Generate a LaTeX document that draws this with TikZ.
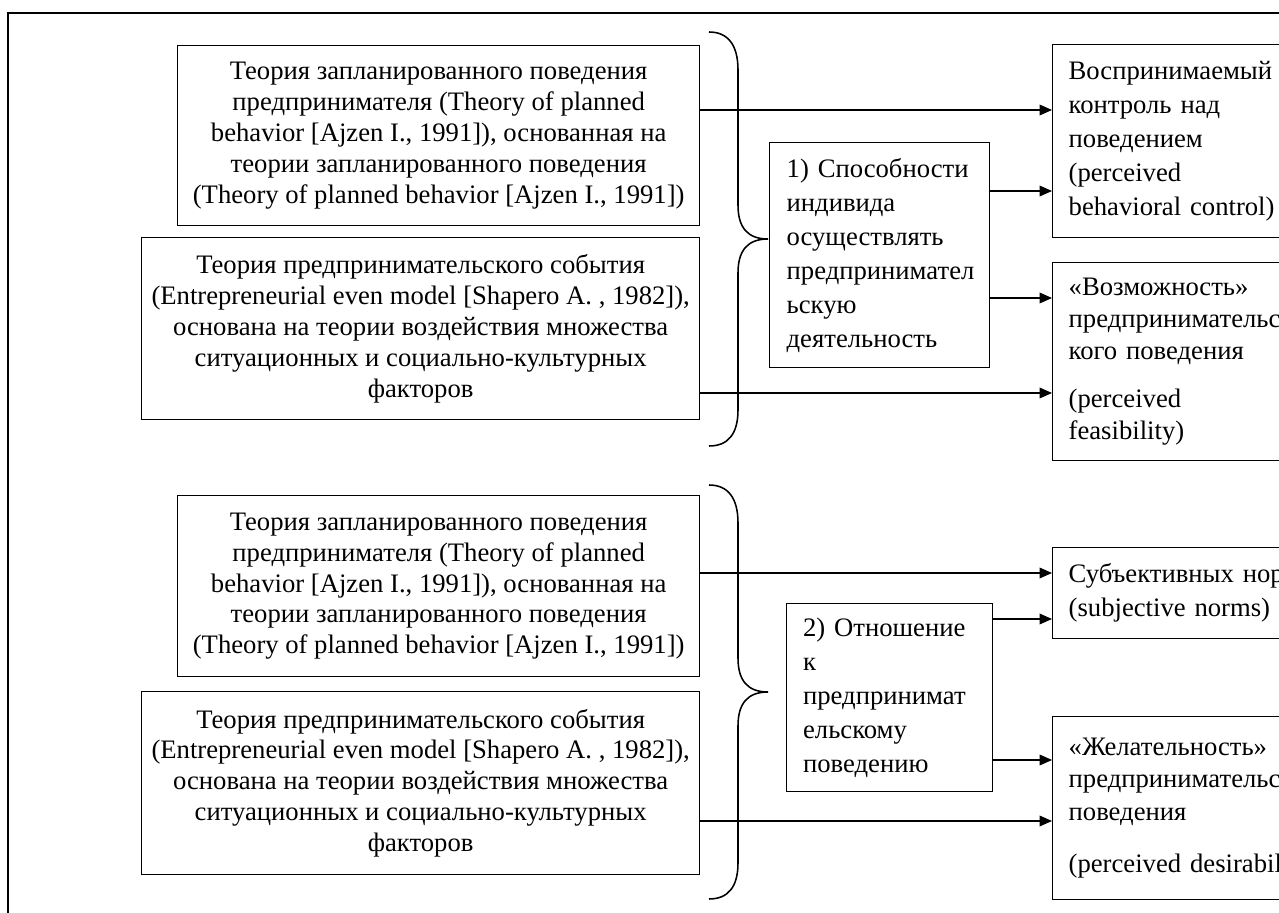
\documentclass[tikz,border=0pt]{standalone}
\usepackage{fontspec}
\setmainfont{Liberation Serif}
\usetikzlibrary{arrows.meta}

\def\pxu{0.45pt}
\tikzset{
  theorybox/.style={draw, line width=0.6pt, align=center,
    font=\fontsize{12}{13.9}\selectfont, inner sep=0pt},
  groupbox/.style={draw, line width=0.6pt, align=left, text width=#1,
    font=\fontsize{12}{15.3}\selectfont, inner xsep=7.4pt, inner ysep=0pt},
  factorbox/.style={draw, line width=0.6pt, align=left, text width=180pt,
    font=\fontsize{12}{15.3}\selectfont, inner xsep=7.2pt, inner ysep=0pt},
  factorboxtight/.style={factorbox, font=\fontsize{12}{14.5}\selectfont},
  link/.style={->, line width=0.6pt},
  bracket/.style={line width=0.7pt}
}
\newcommand{\ideaBox}[7]{%
  \node[#2, anchor=north west,
    minimum width=#5*\pxu, minimum height=#6*\pxu] (#1) at (#3, #4) {#7};%
}

\begin{document}
\begin{tikzpicture}[x=0.45pt, y=-0.45pt, >={Triangle[length=5.6pt, width=4.8pt]}]
  \useasboundingbox (0, 0) rectangle (1279, 913);
  \clip (0, 0) rectangle (1279, 913);
  \draw[line width=0.7pt] (8, 13) rectangle (1320, 960);

  % Group 1: abilities
  \ideaBox{theoryA}{theorybox}{177}{45}{522}{180}{Теория запланированного поведения\\
    предпринимателя (Theory of planned\\ behavior [Ajzen I., 1991]), основанная на\\
    теории запланированного поведения\\ (Theory of planned behavior [Ajzen I., 1991])}
  \ideaBox{eventA}{theorybox}{141}{237}{558}{182}{Теория предпринимательского события\\
    (Entrepreneurial even model [Shapero A. , 1982]),\\ основана на теории воздействия множества\\
    ситуационных и социально-культурных\\ факторов}
  \ideaBox{ability}{groupbox=83.7pt}{769}{142}{220}{225}{1) Способности\\ индивида\\
    осуществлять\\ предпринимател\\ ьскую\\ деятельность}
  \ideaBox{control}{factorbox}{1052}{44}{240}{193}{Воспринимаемый\\ контроль над\\
    поведением\\ (perceived\\ behavioral control)}
  \ideaBox{feasible}{factorboxtight}{1052}{262}{240}{198}{«Возможность»\\
    предпринимательс\\ кого поведения\\[7pt] (perceived\\ feasibility)}

  \draw[bracket] (709, 32) .. controls (728, 32) and (738, 45) .. (738, 70)
    -- (738, 205) .. controls (738, 228) and (748, 239) .. (768, 239)
    .. controls (748, 239) and (738, 250) .. (738, 273)
    -- (738, 410) .. controls (738, 434) and (728, 446) .. (709, 446);

  \draw[link] (theoryA.east |- 0,110) -- (control.west |- 0,110);
  \draw[link] (ability.east |- 0,191) -- (control.west |- 0,191);
  \draw[link] (ability.east |- 0,298) -- (feasible.west |- 0,298);
  \draw[link] (eventA.east |- 0,393) -- (feasible.west |- 0,393);

  % Group 2: attitude
  \ideaBox{theoryB}{theorybox}{177}{495}{522}{181}{Теория запланированного поведения\\
    предпринимателя (Theory of planned\\ behavior [Ajzen I., 1991]), основанная на\\
    теории запланированного поведения\\ (Theory of planned behavior [Ajzen I., 1991])}
  \ideaBox{eventB}{theorybox}{141}{691}{558}{183}{Теория предпринимательского события\\
    (Entrepreneurial even model [Shapero A. , 1982]),\\ основана на теории воздействия множества\\
    ситуационных и социально-культурных\\ факторов}
  \ideaBox{attitude}{groupbox=77.9pt}{786}{603}{203}{188}{2) Отношение\\ к\\
    предпринимат\\ ельскому\\ поведению}
  \ideaBox{norms}{factorbox}{1052}{547}{240}{91}{Субъективных норм\\ (subjective norms)}
  \ideaBox{desire}{factorboxtight}{1052}{716}{240}{183}{«Желательность»\\
    предпринимательского\\ поведения\\[9pt] (perceived desirability)}

  \draw[bracket] (709, 485) .. controls (728, 485) and (738, 498) .. (738, 523)
    -- (738, 658) .. controls (738, 681) and (748, 692) .. (768, 692)
    .. controls (748, 692) and (738, 703) .. (738, 726)
    -- (738, 863) .. controls (738, 887) and (728, 899) .. (709, 899);

  \draw[link] (theoryB.east |- 0,573) -- (norms.west |- 0,573);
  \draw[link] (attitude.east |- 0,619) -- (norms.west |- 0,619);
  \draw[link] (attitude.east |- 0,760) -- (desire.west |- 0,760);
  \draw[link] (eventB.east |- 0,821) -- (desire.west |- 0,821);
\end{tikzpicture}
\end{document}
